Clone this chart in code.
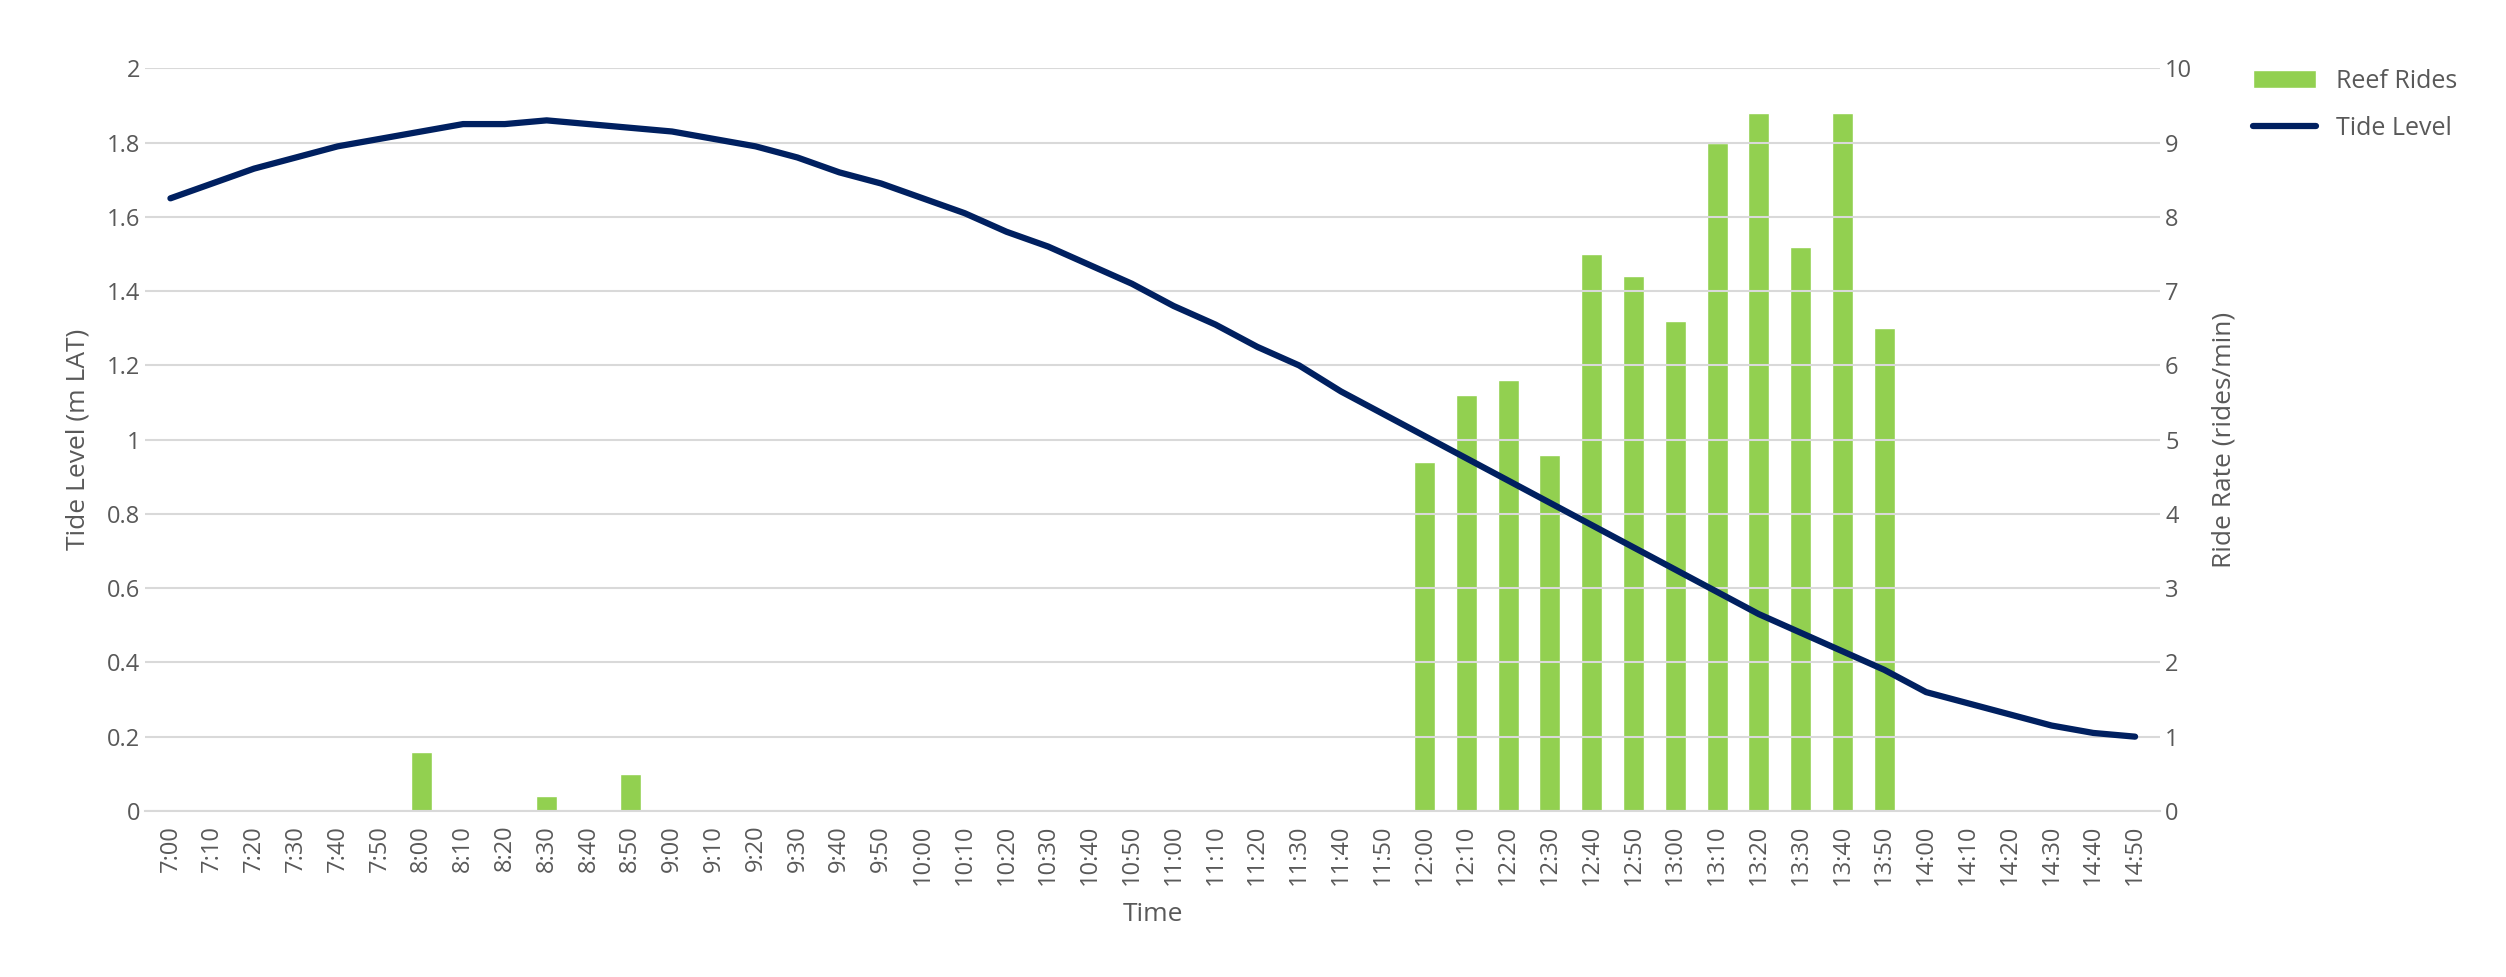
import numpy as np, pandas as pd, matplotlib
matplotlib.use("Agg")
import matplotlib.pyplot as plt, seaborn as sns

times = [f"{h}:{m:02d}" for h in range(7, 15) for m in range(0, 60, 10)]
tide = [1.65,1.69,1.73,1.76,1.79,1.81,1.83,1.85,1.85,1.86,1.85,1.84,1.83,1.81,1.79,1.76,1.72,1.69,
        1.65,1.61,1.56,1.52,1.47,1.42,1.36,1.31,1.25,1.20,1.13,1.07,1.01,0.95,0.89,0.83,0.77,0.71,
        0.65,0.59,0.53,0.48,0.43,0.38,0.32,0.29,0.26,0.23,0.21,0.20]
rides = {"8:00":0.8,"8:30":0.2,"8:50":0.5,"12:00":4.7,"12:10":5.6,"12:20":5.8,"12:30":4.8,"12:40":7.5,
         "12:50":7.2,"13:00":6.6,"13:10":9.0,"13:20":9.4,"13:30":7.6,"13:40":9.4,"13:50":6.5}
ride_vals = [rides.get(t, 0) for t in times]

sns.set_theme(style="white")
plt.rcParams['font.family'] = ['Open Sans', 'DejaVu Sans']
fig = plt.figure(figsize=(25.06, 9.77), dpi=100)
ax = fig.add_axes([0.058, 0.17, 0.804, 0.76])
ax2 = ax.twinx()
df = pd.DataFrame({"time": times, "tide": tide, "rides": ride_vals, "pos": np.arange(len(times))})
sns.barplot(data=df, x="time", y="rides", ax=ax2, color="#92D050", saturation=1, width=0.5, label="Reef Rides")
sns.lineplot(data=df, x="pos", y="tide", ax=ax, color="#002060", linewidth=4.5, label="Tide Level")
ax.set_zorder(ax2.get_zorder() + 1); ax.patch.set_visible(False)

gc = "#595959"
ax.set_ylim(0, 2); ax2.set_ylim(0, 10)
ax.set_yticks(np.arange(0, 2.01, 0.2)); ax.set_yticklabels(["0","0.2","0.4","0.6","0.8","1","1.2","1.4","1.6","1.8","2"])
ax2.set_yticks(range(0, 11))
ax.set_xlim(-0.6, len(times) - 0.4)
ax.set_xticks(range(len(times))); ax.set_xticklabels(times, rotation=90)
ax.grid(axis="y", color="#d9d9d9", linewidth=1.5); ax2.grid(False)
for a in (ax, ax2):
    for s in a.spines.values(): s.set_visible(False)
    a.tick_params(colors=gc, labelsize=17, length=0)
ax.tick_params(axis="x", pad=10)
ax.spines["bottom"].set_visible(True); ax.spines["bottom"].set_color("#d9d9d9"); ax.spines["bottom"].set_linewidth(1.5)
ax.set_xlabel("Time", fontsize=19, color=gc, labelpad=12)
ax.set_ylabel("Tide Level (m LAT)", fontsize=19, color=gc, labelpad=12)
ax2.set_xlabel(""); ax2.set_ylabel("Ride Rate (rides/min)", fontsize=19, color=gc, labelpad=14)
h1, l1 = ax2.get_legend_handles_labels(); h2, l2 = ax.get_legend_handles_labels()
ax2.get_legend() and ax2.get_legend().remove()
ax.legend(h1 + h2, l1 + l2, loc="upper left", bbox_to_anchor=(1.035, 1.03), frameon=False,
          fontsize=18, labelcolor=gc, handlelength=2.5, labelspacing=0.9)
fig.savefig("out.png", dpi=100)
